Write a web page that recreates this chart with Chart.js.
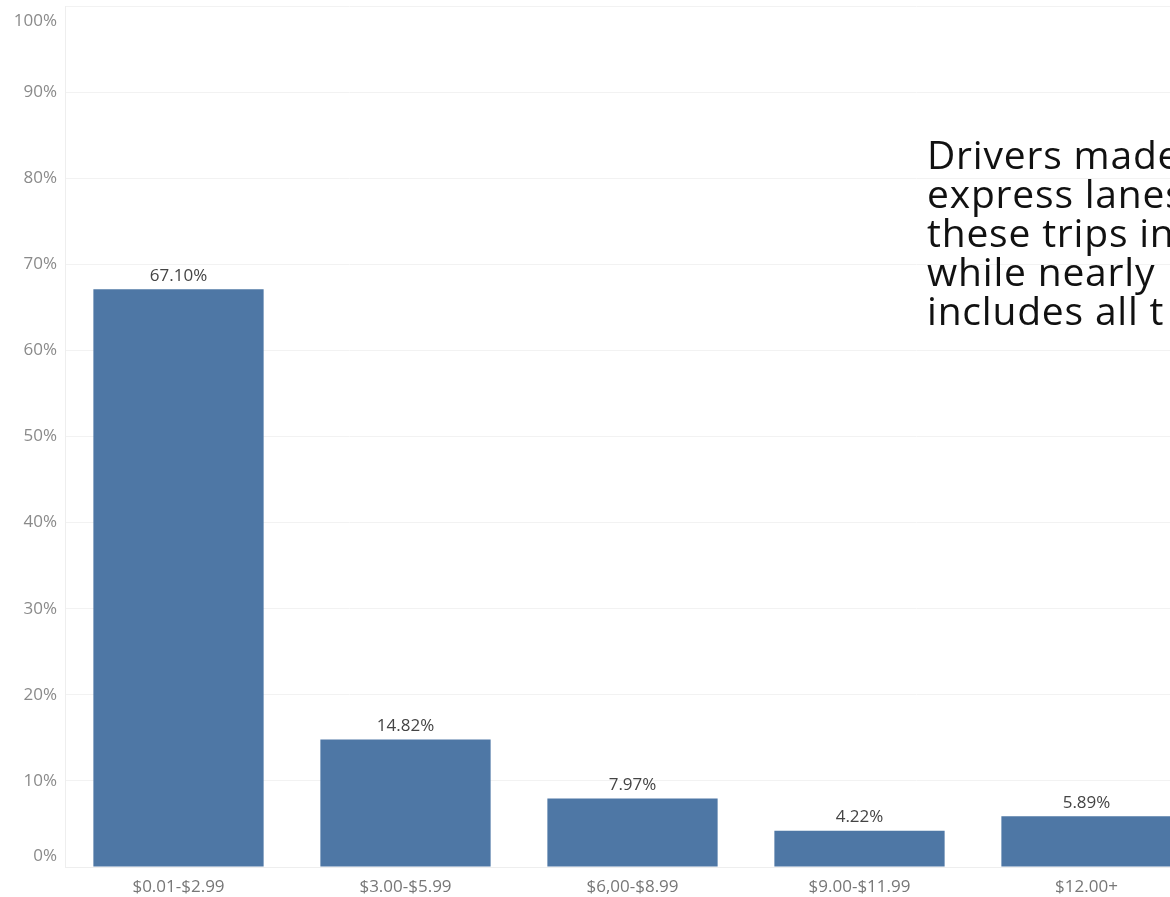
<!DOCTYPE html>
<html>
<head>
<meta charset="utf-8">
<script src="https://cdn.jsdelivr.net/npm/chart.js@4.4.1/dist/chart.umd.min.js"></script>
<style>
  html, body { margin: 0; padding: 0; background: #fff; overflow: hidden; width: 1170px; height: 897px; }
  #wrap { position: absolute; left: 0; top: 0; width: 1200px; height: 897px; }
  #note { position: absolute; left: 927px; top: 134px; font-family: "Open Sans", sans-serif; font-size: 39px; line-height: 39px; letter-spacing: 0.8px; color: #111; white-space: nowrap; }
</style>
</head>
<body>
<div id="wrap"><canvas id="c"></canvas></div>
<div id="note">Drivers made<br>express lanes<br>these trips in<br>while nearly<br>includes all t</div>
<script>
const categories = ["$0.01-$2.99", "$3.00-$5.99", "$6,00-$8.99", "$9.00-$11.99", "$12.00+"];
const shares = [67.10, 14.82, 7.97, 4.22, 5.89];
const yTicks = [0, 10, 20, 30, 40, 50, 60, 70, 80, 90, 100];

const valueLabels = {
  id: 'valueLabels',
  afterDatasetsDraw(chart) {
    const ctx = chart.ctx;
    const meta = chart.getDatasetMeta(0);
    ctx.save();
    ctx.font = '17px "Open Sans", sans-serif';
    ctx.fillStyle = '#444';
    ctx.textAlign = 'center';
    ctx.textBaseline = 'bottom';
    meta.data.forEach((bar, i) => {
      ctx.fillText(shares[i].toFixed(2) + '%', bar.x, bar.y - 5);
    });
    ctx.restore();
  }
};

// y tick labels drawn at the scale's tick positions, kept inside the plot edges
const yLabels = {
  id: 'yLabels',
  afterDraw(chart) {
    const ctx = chart.ctx;
    const y = chart.scales.y;
    const area = chart.chartArea;
    ctx.save();
    ctx.font = '17px "Open Sans", sans-serif';
    ctx.fillStyle = '#8a8a8a';
    ctx.textAlign = 'right';
    ctx.textBaseline = 'middle';
    yTicks.forEach(v => {
      let py = y.getPixelForValue(v);
      py = Math.max(area.top + 15, Math.min(area.bottom - 11, py));
      ctx.fillText(v + '%', area.left - 8, py);
    });
    ctx.restore();
  }
};

new Chart(document.getElementById('c'), {
  type: 'bar',
  data: {
    labels: categories,
    datasets: [{
      data: shares,
      backgroundColor: '#4e77a5',
      borderWidth: 0,
      barPercentage: 0.75,
      categoryPercentage: 1.0
    }]
  },
  options: {
    responsive: true,
    maintainAspectRatio: false,
    animation: false,
    layout: { padding: { top: 6, right: 0, bottom: 0, left: 0 } },
    plugins: { legend: { display: false }, tooltip: { enabled: false } },
    scales: {
      x: {
        grid: { display: false, drawTicks: false },
        border: { color: '#eeeeee' },
        ticks: { color: '#777', font: { family: 'Open Sans', size: 17 }, padding: 10 },
        afterFit(s) { s.height = 30; s.paddingLeft = 0; s.paddingRight = 0; }
      },
      y: {
        min: 0, max: 100,
        afterBuildTicks(s) { s.ticks = yTicks.map(v => ({ value: v })); },
        grid: { color: '#f2f2f2', drawTicks: false },
        border: { color: '#eeeeee' },
        ticks: { display: false },
        afterFit(s) { s.width = 65; s.paddingTop = 0; s.paddingBottom = 0; }
      }
    }
  },
  plugins: [valueLabels, yLabels]
});
</script>
</body>
</html>
